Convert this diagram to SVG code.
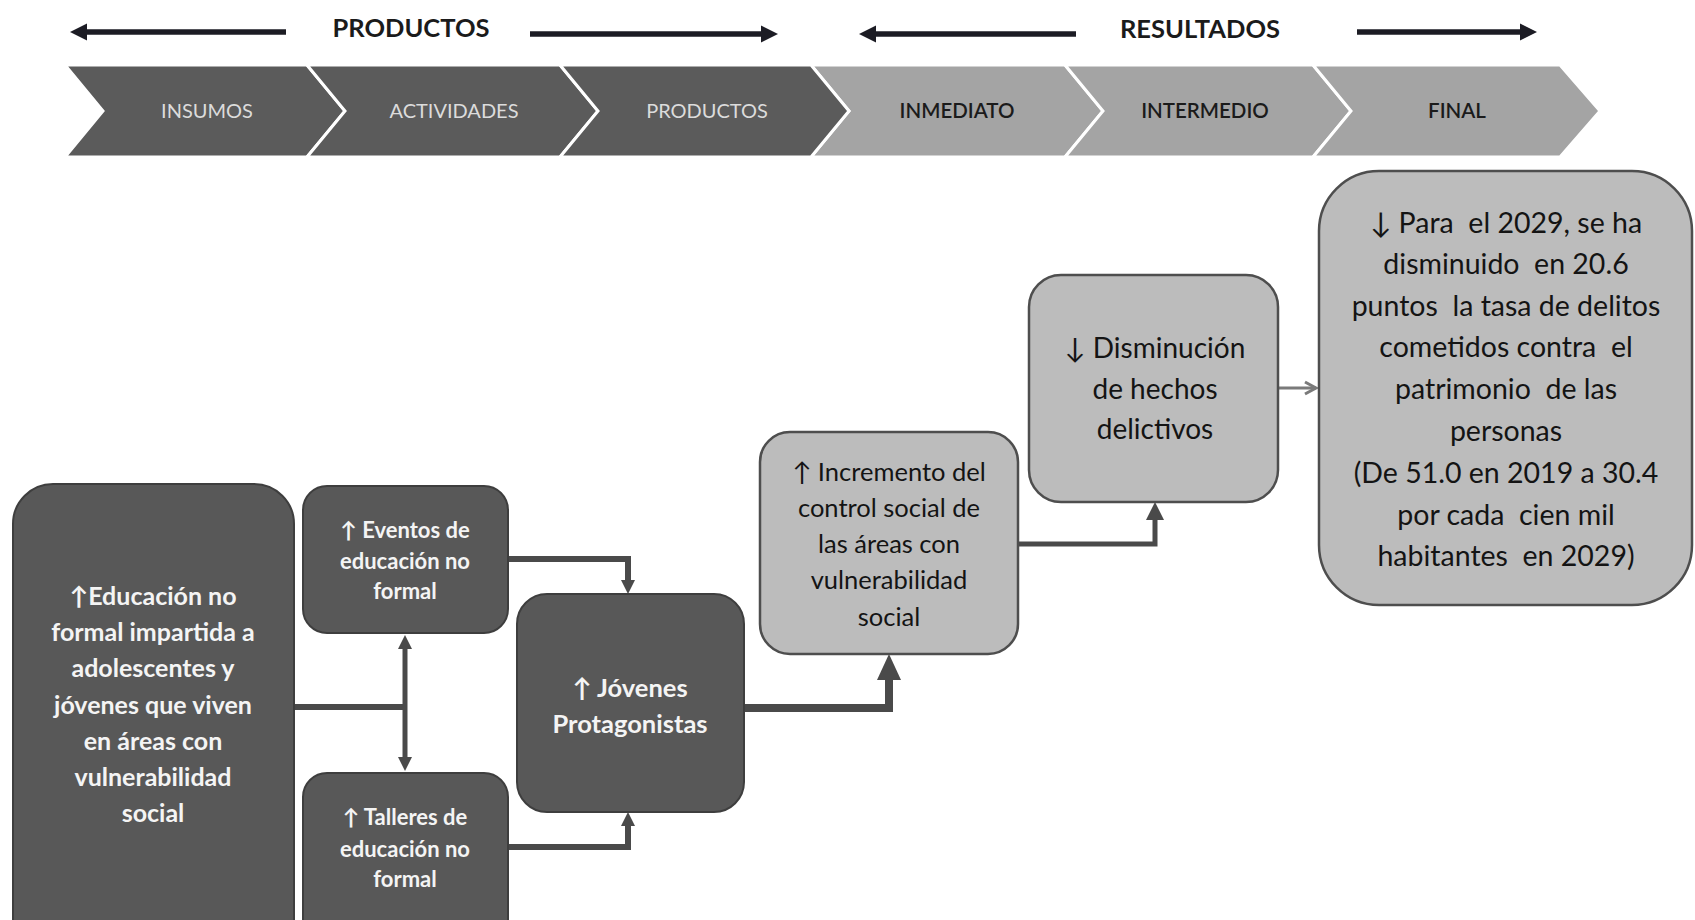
<svg xmlns="http://www.w3.org/2000/svg" width="1695" height="920" viewBox="0 0 1695 920">
<style>
text{font-family:Lato,"Liberation Sans",sans-serif;text-anchor:middle;white-space:pre}
.hd{font-size:25.5px;font-weight:700;fill:#1b1b1b}
.cd{fill:#5b5b5b;stroke:#fff;stroke-width:3}
.cl{fill:#a4a4a4;stroke:#fff;stroke-width:3}
.ctd{font-size:20px;fill:#dcdcdc}
.ctl{font-size:20.5px;fill:#1b1b1b;font-weight:600}
.dark{fill:#585858;stroke:#3e3e3e;stroke-width:2}
.light{fill:#bcbcbc;stroke:#4e4e4e;stroke-width:2.5}
.wt{fill:#f4f4f4;font-weight:700}
.bt{fill:#141414}
.ln{fill:none;stroke:#4a4a4a;stroke-linejoin:miter}
.topar{fill:none;stroke:#1c1c24;stroke-width:5.5}
</style>
<defs>
<marker id="aTop" markerUnits="userSpaceOnUse" markerWidth="18" markerHeight="18" refX="0" refY="8.5" orient="auto-start-reverse" overflow="visible"><path d="M0,0 L17,8.5 L0,17 z" fill="#1c1c24"/></marker>
<marker id="aMed" markerUnits="userSpaceOnUse" markerWidth="16" markerHeight="16" refX="0" refY="7" orient="auto-start-reverse" overflow="visible"><path d="M0,0 L14,7 L0,14 z" fill="#4a4a4a"/></marker>
<marker id="aMid" markerUnits="userSpaceOnUse" markerWidth="20" markerHeight="20" refX="0" refY="9" orient="auto" overflow="visible"><path d="M0,0 L18,9 L0,18 z" fill="#4a4a4a"/></marker>
<marker id="aBig" markerUnits="userSpaceOnUse" markerWidth="28" markerHeight="26" refX="0" refY="12" orient="auto" overflow="visible"><path d="M0,0 L26,12 L0,24 z" fill="#4a4a4a"/></marker>
<marker id="aOpen" markerUnits="userSpaceOnUse" markerWidth="14" markerHeight="14" refX="12" refY="6" orient="auto" overflow="visible"><path d="M1,0 L12,6 L1,12" fill="none" stroke="#7a7a7a" stroke-width="3"/></marker>
</defs>

<g id="header">
<path class="topar" d="M286,32 H87" marker-end="url(#aTop)"/>
<text class="hd" x="411" y="37">PRODUCTOS</text>
<path class="topar" d="M530,34 H761" marker-end="url(#aTop)"/>
<path class="topar" d="M1076,34 H876" marker-end="url(#aTop)"/>
<text class="hd" x="1200" y="38">RESULTADOS</text>
<path class="topar" d="M1357,32 H1520" marker-end="url(#aTop)"/>
</g>

<g id="chevrons">
<g id="chev-insumos"><polygon class="cd" points="65,65 307,65 345,111 307,157 65,157 103,111"/><text class="ctd" x="207" y="118">INSUMOS</text></g>
<g id="chev-actividades"><polygon class="cd" points="307,65 560,65 598,111 560,157 307,157 345,111"/><text class="ctd" x="454" y="118">ACTIVIDADES</text></g>
<g id="chev-productos"><polygon class="cl" points="811,65 1065,65 1103,111 1065,157 811,157 849,111"/><polygon class="cd" points="560,65 811,65 849,111 811,157 560,157 598,111"/><text class="ctd" x="707" y="118">PRODUCTOS</text></g>
<g id="chev-inmediato"><text class="ctl" x="957" y="118">INMEDIATO</text></g>
<g id="chev-intermedio"><polygon class="cl" points="1065,65 1313,65 1351,111 1313,157 1065,157 1103,111"/><text class="ctl" x="1205" y="118">INTERMEDIO</text></g>
<g id="chev-final"><polygon class="cl" points="1313,65 1560,65 1600,111 1560,157 1313,157 1351,111"/><text class="ctl" x="1457" y="118">FINAL</text></g>
</g>

<g id="connectors">
<path class="ln" stroke-width="6" d="M294,707 H405"/>
<path class="ln" stroke-width="5" d="M405,649 V757" marker-start="url(#aMed)" marker-end="url(#aMed)"/>
<path class="ln" stroke-width="6" d="M508,559 H628 V580" marker-end="url(#aMed)"/>
<path class="ln" stroke-width="6" d="M508,847 H628 V826" marker-end="url(#aMed)"/>
<path class="ln" stroke-width="8" d="M744,708 H889 V680" marker-end="url(#aBig)"/>
<path class="ln" stroke-width="5" d="M1018,544 H1155 V520" marker-end="url(#aMid)"/>
<path fill="none" stroke="#7a7a7a" stroke-width="3" d="M1278,388 H1316" marker-end="url(#aOpen)"/>
</g>

<g id="n-educacion">
<rect class="dark" x="13" y="484" width="281" height="480" rx="40"/>
<text class="wt" font-size="25"><tspan x="153" y="605">↑Educación no</tspan><tspan x="153" y="641">formal impartida a</tspan><tspan x="153" y="677">adolescentes y</tspan><tspan x="153" y="714">jóvenes que viven</tspan><tspan x="153" y="750">en áreas con</tspan><tspan x="153" y="786">vulnerabilidad</tspan><tspan x="153" y="822">social</tspan></text>
</g>

<g id="n-eventos">
<rect class="dark" x="303" y="486" width="205" height="147" rx="24"/>
<text class="wt" font-size="22"><tspan x="405" y="538">↑ Eventos de</tspan><tspan x="405" y="569">educación no</tspan><tspan x="405" y="599">formal</tspan></text>
</g>

<g id="n-talleres">
<rect class="dark" x="303" y="773" width="205" height="190" rx="24"/>
<text class="wt" font-size="22"><tspan x="405" y="825">↑ Talleres de</tspan><tspan x="405" y="857">educación no</tspan><tspan x="405" y="887">formal</tspan></text>
</g>

<g id="n-jovenes">
<rect class="dark" x="517" y="594" width="227" height="218" rx="30"/>
<text class="wt" font-size="25.5"><tspan x="630" y="697">↑ Jóvenes</tspan><tspan x="630" y="733">Protagonistas</tspan></text>
</g>

<g id="n-incremento">
<rect class="light" x="760" y="432" width="258" height="222" rx="30"/>
<text class="bt" font-size="25.5"><tspan x="889" y="481">↑ Incremento del</tspan><tspan x="889" y="517">control social de</tspan><tspan x="889" y="553">las áreas con</tspan><tspan x="889" y="589">vulnerabilidad</tspan><tspan x="889" y="626">social</tspan></text>
</g>

<g id="n-disminucion">
<rect class="light" x="1029" y="275" width="249" height="227" rx="32"/>
<text class="bt" font-size="28"><tspan x="1155" y="358">↓ Disminución</tspan><tspan x="1155" y="399">de hechos</tspan><tspan x="1155" y="439">delictivos</tspan></text>
</g>

<g id="n-final">
<rect class="light" x="1319" y="171" width="373" height="434" rx="60"/>
<text class="bt" font-size="28.5"><tspan x="1506" y="233">↓ Para  el 2029, se ha</tspan><tspan x="1506" y="274">disminuido  en 20.6</tspan><tspan x="1506" y="316">puntos  la tasa de delitos</tspan><tspan x="1506" y="357">cometidos contra  el</tspan><tspan x="1506" y="399">patrimonio  de las</tspan><tspan x="1506" y="441">personas</tspan><tspan x="1506" y="483">(De 51.0 en 2019 a 30.4</tspan><tspan x="1506" y="525">por cada  cien mil</tspan><tspan x="1506" y="566">habitantes  en 2029)</tspan></text>
</g>
</svg>
